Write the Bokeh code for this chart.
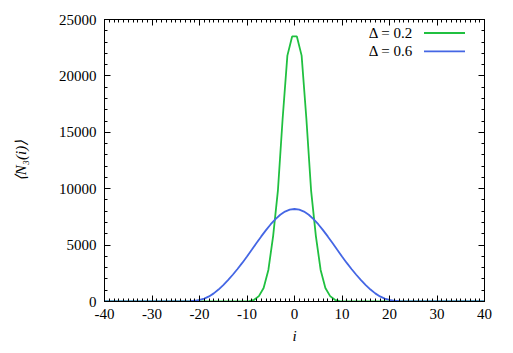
from bokeh.plotting import figure
from bokeh.models import LinearAxis, Range1d, Label, BoxAnnotation, FixedTicker, CustomJSTickFormatter
from bokeh.embed import file_html
from bokeh.resources import INLINE

# ---- data ----
green_i = [-40, -10.5, -9.5, -8.5, -7.5, -6.5, -5.5, -4.5, -3.5, -2.5, -1.5, -0.5,
           0.5, 1.5, 2.5, 3.5, 4.5, 5.5, 6.5, 7.5, 8.5, 9.5, 10.5, 40]
green_n = [0, 0, 30, 150, 480, 1200, 2800, 5800, 9800, 16200, 21800, 23500,
           23500, 21800, 16200, 9800, 5800, 2800, 1200, 480, 150, 30, 0, 0]

blue_i = [-40, -24, -23, -22, -21, -20, -19, -18, -17, -16, -15, -14, -13, -12, -11,
          -10, -9, -8, -7, -6, -5, -4, -3, -2, -1, 0, 1, 2, 3, 4, 5, 6, 7, 8, 9,
          10, 11, 12, 13, 14, 15, 16, 17, 18, 19, 20, 21, 22, 23, 24, 40]
blue_n = [0, 0, 8, 25, 65, 140, 260, 450, 720, 1060, 1460, 1900, 2370, 2880, 3420,
          3990, 4580, 5180, 5770, 6330, 6850, 7310, 7690, 7970, 8140, 8200,
          8140, 7970, 7690, 7310, 6850, 6330, 5770, 5180, 4580, 3990, 3420, 2880,
          2370, 1900, 1460, 1060, 720, 450, 260, 140, 65, 25, 8, 0, 0]

x_ticks = [-40, -30, -20, -10, 0, 10, 20, 30, 40]
y_ticks = [0, 5000, 10000, 15000, 20000, 25000]
labels = ["\u0394 = 0.2", "\u0394 = 0.6"]
colors = ["#20c040", "#4466e4"]
x_title = "i"
y_title = "\u27e8N\u2083(i)\u27e9"

FONT = "'Liberation Serif', 'Times New Roman', serif"
FS = "15px"

p = figure(output_backend="svg", toolbar_location=None,
           frame_width=380, frame_height=282,
           min_border_left=104, min_border_right=22, min_border_top=19, min_border_bottom=48,
           x_range=Range1d(-40, 40), y_range=Range1d(0, 25000))
p.background_fill_color = "white"
p.border_fill_color = "white"
p.outline_line_color = "black"
p.outline_line_width = 1
p.xgrid.visible = False
p.ygrid.visible = False

p.line(green_i, green_n, line_color=colors[0], line_width=1.8)
p.line(blue_i, blue_n, line_color=colors[1], line_width=1.8)

fmt = CustomJSTickFormatter(code="return String(Math.round(tick));")

def style(ax, show_labels=True):
    ax.major_tick_in = 6
    ax.major_tick_out = 0
    ax.minor_tick_in = 3
    ax.minor_tick_out = 0
    ax.axis_line_color = "black"
    ax.major_tick_line_color = "black"
    ax.minor_tick_line_color = "black"
    ax.formatter = fmt
    ax.major_label_text_font = FONT
    ax.major_label_text_font_size = FS
    ax.major_label_text_color = "black" if show_labels else None
    ax.axis_label_text_font = FONT
    ax.axis_label_text_font_size = FS
    ax.axis_label_text_font_style = "italic"
    ax.axis_label_text_color = "black"

p.xaxis.ticker = FixedTicker(ticks=x_ticks, minor_ticks=list(range(-40, 41)))
p.yaxis.ticker = FixedTicker(ticks=y_ticks, minor_ticks=list(range(0, 25001, 1000)))
style(p.xaxis[0])
style(p.yaxis[0])
p.xaxis.axis_label = x_title
p.yaxis.axis_label = y_title
p.xaxis.major_label_standoff = 7
p.xaxis.axis_label_standoff = 6
p.yaxis.major_label_standoff = 8
p.yaxis.axis_label_standoff = 27

ax_top = LinearAxis(ticker=FixedTicker(ticks=x_ticks, minor_ticks=list(range(-40, 41))))
style(ax_top, False)
p.add_layout(ax_top, "above")
ax_right = LinearAxis(ticker=FixedTicker(ticks=y_ticks, minor_ticks=list(range(0, 25001, 1000))))
style(ax_right, False)
p.add_layout(ax_right, "right")

# legend (gnuplot-style: text then line sample)
for k, (lab, col) in enumerate(zip(labels, colors)):
    yc = 268.5 - 18.3 * k
    p.add_layout(Label(x=308.5, y=yc, x_units="screen", y_units="screen", text=lab,
                       text_align="right", text_baseline="middle",
                       text_font=FONT, text_font_size=FS, text_color="black"))
    p.add_layout(BoxAnnotation(left=319.5, right=360.5, bottom=yc - 0.9, top=yc + 0.9,
                               left_units="screen", right_units="screen",
                               bottom_units="screen", top_units="screen",
                               fill_color=col, fill_alpha=1.0, line_color=None))

open("out.html", "w").write(file_html(p, INLINE))
